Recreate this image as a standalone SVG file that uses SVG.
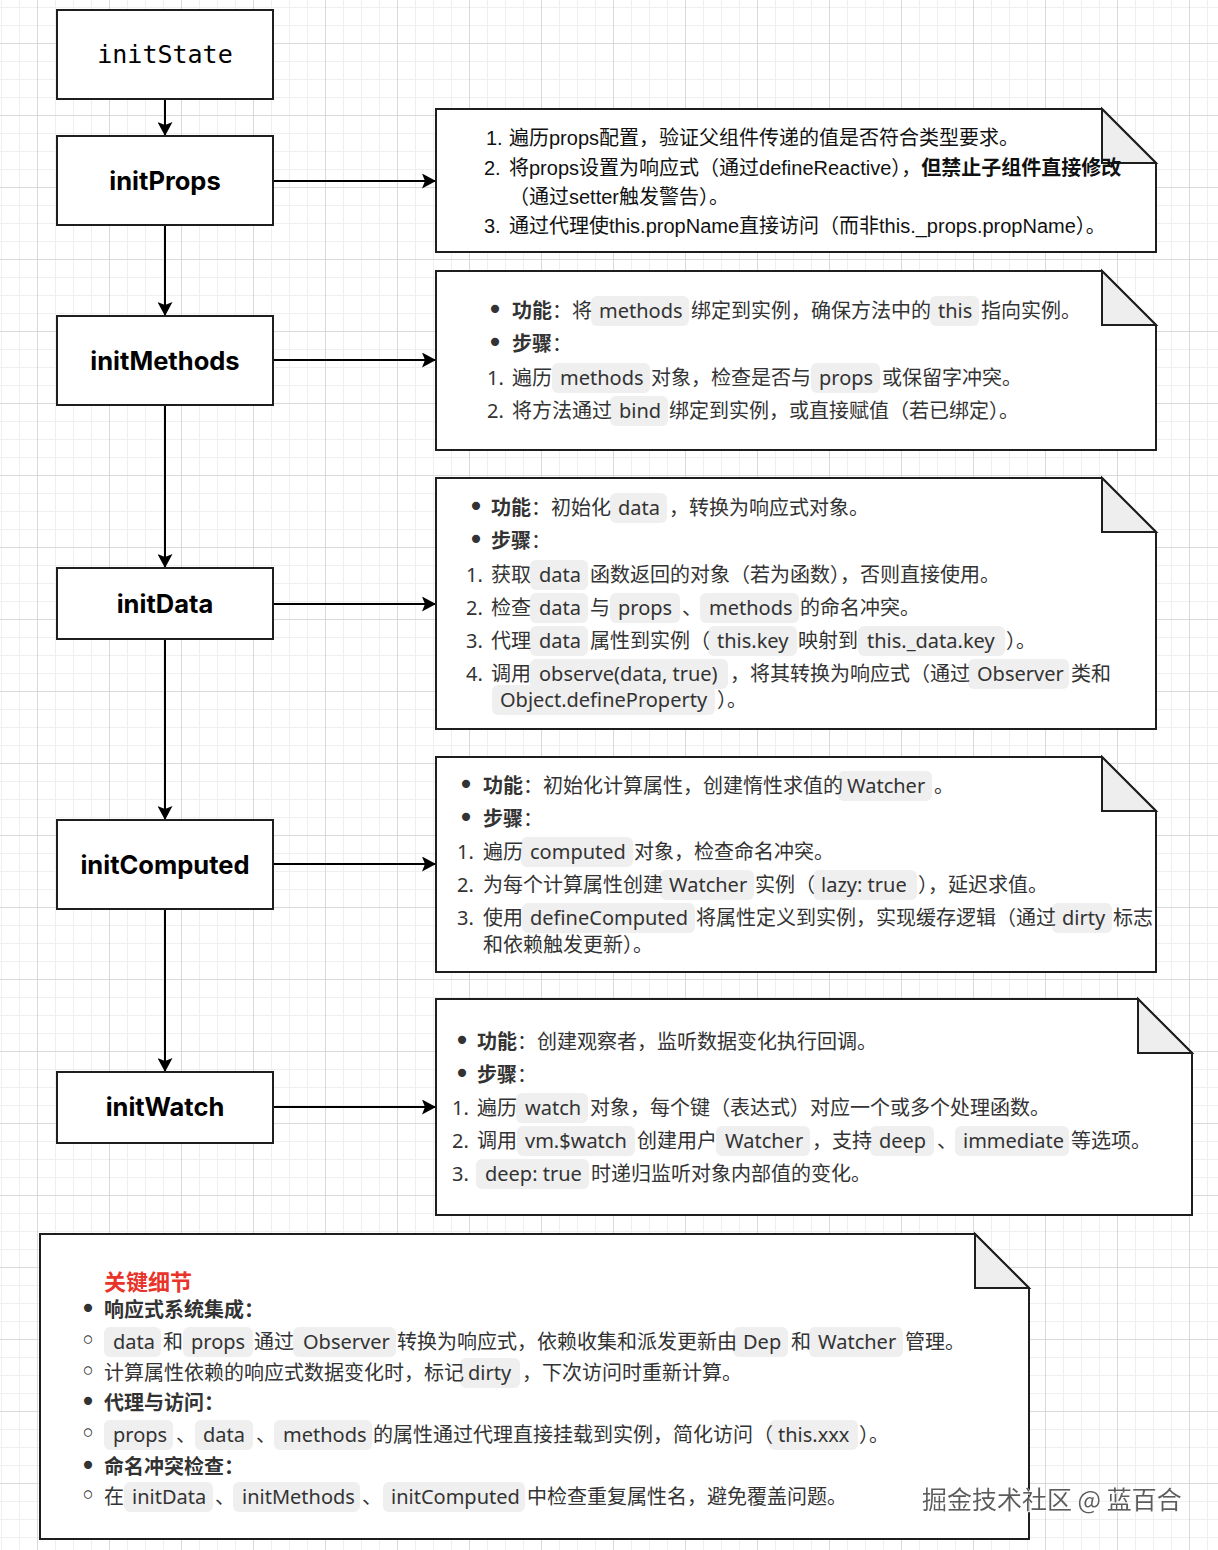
<svg xmlns="http://www.w3.org/2000/svg" width="1218" height="1550" viewBox="0 0 1218 1550">
<style>
.t{font-family:"Noto Sans","Noto Sans CJK SC",sans-serif;font-size:20px;fill:#333}
.d{font-family:"Liberation Sans","Noto Sans CJK SC",sans-serif;fill:#111}
.b{font-weight:700}
.k{fill:#efefef}
.bl{font-family:"DejaVu Sans","Noto Sans CJK SC",sans-serif;font-size:28px;fill:#333;text-anchor:middle}
.node{fill:#fff;stroke:#1e1e1e;stroke-width:2}
.note{fill:#fff;stroke:#1e1e1e;stroke-width:2}
.fold{fill:#eeeeee;stroke:#1e1e1e;stroke-width:2;stroke-linejoin:miter}
.lbl{font-family:Inter,"Noto Sans",sans-serif;font-size:25.5px;font-weight:700;fill:#000;text-anchor:middle}
.edge{stroke:#000;stroke-width:2;fill:none}
</style>
<defs>
<pattern id="grid" patternUnits="userSpaceOnUse" x="37" y="43" width="72" height="72">
<rect x="18" y="0" width="1" height="72" fill="#efefef"/>
<rect x="36" y="0" width="1" height="72" fill="#efefef"/>
<rect x="54" y="0" width="1" height="72" fill="#efefef"/>
<rect x="0" y="18" width="72" height="1" fill="#efefef"/>
<rect x="0" y="36" width="72" height="1" fill="#efefef"/>
<rect x="0" y="54" width="72" height="1" fill="#efefef"/>
<rect x="0" y="0" width="1" height="72" fill="#d9d9d9"/>
<rect x="0" y="0" width="72" height="1" fill="#d9d9d9"/>
</pattern>
<marker id="arr" markerUnits="userSpaceOnUse" markerWidth="15" markerHeight="15" viewBox="0 0 15 15" refX="14" refY="7.5" orient="auto">
<path d="M0,0 L14,7.5 L0,15 L3,7.5 Z" fill="#000"/>
</marker>
<filter id="wm" x="-5%" y="-20%" width="110%" height="140%">
<feDropShadow dx="1" dy="1" stdDeviation="0.3" flood-color="#ffffff" flood-opacity="1"/>
</filter>
</defs>
<rect width="1218" height="1550" fill="#fff"/>
<rect width="1218" height="1550" fill="url(#grid)"/>

<g id="edges">
<line class="edge" x1="165" y1="99" x2="165" y2="136" marker-end="url(#arr)"/>
<line class="edge" x1="165" y1="225" x2="165" y2="316" marker-end="url(#arr)"/>
<line class="edge" x1="165" y1="405" x2="165" y2="568" marker-end="url(#arr)"/>
<line class="edge" x1="165" y1="639" x2="165" y2="820" marker-end="url(#arr)"/>
<line class="edge" x1="165" y1="909" x2="165" y2="1072" marker-end="url(#arr)"/>
<line class="edge" x1="273" y1="181" x2="436" y2="181" marker-end="url(#arr)"/>
<line class="edge" x1="273" y1="360" x2="436" y2="360" marker-end="url(#arr)"/>
<line class="edge" x1="273" y1="604" x2="436" y2="604" marker-end="url(#arr)"/>
<line class="edge" x1="273" y1="864" x2="436" y2="864" marker-end="url(#arr)"/>
<line class="edge" x1="273" y1="1107" x2="436" y2="1107" marker-end="url(#arr)"/>
</g>

<g id="n-initState">
<rect class="node" x="57" y="10" width="216" height="89"/>
<text x="165" y="63" text-anchor="middle" font-family="'DejaVu Sans Mono','Liberation Mono',monospace" font-size="25" fill="#000">initState</text>
</g>
<g id="n-initProps">
<rect class="node" x="57" y="136" width="216" height="89"/>
<text class="lbl" x="165" y="190">initProps</text>
</g>
<g id="n-initMethods">
<rect class="node" x="57" y="316" width="216" height="89"/>
<text class="lbl" x="165" y="370">initMethods</text>
</g>
<g id="n-initData">
<rect class="node" x="57" y="568" width="216" height="71"/>
<text class="lbl" x="165" y="613">initData</text>
</g>
<g id="n-initComputed">
<rect class="node" x="57" y="820" width="216" height="89"/>
<text class="lbl" x="165" y="874">initComputed</text>
</g>
<g id="n-initWatch">
<rect class="node" x="57" y="1072" width="216" height="71"/>
<text class="lbl" x="165" y="1116">initWatch</text>
</g>

<g id="note-props">
<path class="note" d="M436,109 H1102 L1156,163 V252 H436 Z"/>
<path class="fold" d="M1102,109 V163 H1156 Z"/>
<text class="t d" x="486" y="145">1.<tspan x="509">遍历props配置，验证父组件传递的值是否符合类型要求。</tspan></text>
<text class="t d" x="484" y="175">2.<tspan x="509">将props设置为响应式（通过defineReactive），</tspan><tspan class="b">但禁止子组件直接修改</tspan></text>
<text class="t d" x="509" y="204">（通过setter触发警告）。</text>
<text class="t d" x="484" y="233">3.<tspan x="509">通过代理使this.propName直接访问（而非this._props.propName）。</tspan></text>
</g>

<g id="note-methods">
<path class="note" d="M436,271 H1102 L1156,325 V450 H436 Z"/>
<path class="fold" d="M1102,271 V325 H1156 Z"/>
<rect class="k" x="591" y="296" width="98" height="30" rx="6"/>
<rect class="k" x="930" y="296" width="49" height="30" rx="6"/>
<rect class="k" x="552" y="363" width="98" height="30" rx="6"/>
<rect class="k" x="811" y="363" width="69" height="30" rx="6"/>
<rect class="k" x="610" y="396" width="58" height="30" rx="6"/>
<text class="bl" x="495" y="319">•</text>
<text class="bl" x="495" y="352">•</text>
<text class="t" x="512" y="318"><tspan class="b">功能</tspan>：将<tspan x="599">methods</tspan><tspan x="691">绑定到实例，确保方法中的</tspan><tspan x="938">this</tspan><tspan x="981">指向实例。</tspan></text>
<text class="t" x="512" y="351"><tspan class="b">步骤</tspan>：</text>
<text class="t" x="487" y="385">1.<tspan x="512">遍历</tspan><tspan x="560">methods</tspan><tspan x="651">对象，检查是否与</tspan><tspan x="819">props</tspan><tspan x="882">或保留字冲突。</tspan></text>
<text class="t" x="487" y="418">2.<tspan x="512">将方法通过</tspan><tspan x="619">bind</tspan><tspan x="669">绑定到实例，或直接赋值（若已绑定）。</tspan></text>
</g>

<g id="note-data">
<path class="note" d="M436,478 H1102 L1156,532 V729 H436 Z"/>
<path class="fold" d="M1102,478 V532 H1156 Z"/>
<rect class="k" x="610" y="493" width="57" height="30" rx="6"/>
<rect class="k" x="530" y="560" width="58" height="30" rx="6"/>
<rect class="k" x="530" y="593" width="58" height="30" rx="6"/>
<rect class="k" x="610" y="593" width="70" height="30" rx="6"/>
<rect class="k" x="700" y="593" width="99" height="30" rx="6"/>
<rect class="k" x="530" y="626" width="58" height="30" rx="6"/>
<rect class="k" x="708" y="626" width="89" height="30" rx="6"/>
<rect class="k" x="858" y="626" width="147" height="30" rx="6"/>
<rect class="k" x="530" y="659" width="198" height="30" rx="6"/>
<rect class="k" x="968" y="659" width="101" height="30" rx="6"/>
<rect class="k" x="492" y="685" width="223" height="30" rx="6"/>
<text class="bl" x="476" y="516">•</text>
<text class="bl" x="476" y="549">•</text>
<text class="t" x="491" y="515"><tspan class="b">功能</tspan>：初始化<tspan x="618">data</tspan><tspan x="669">，转换为响应式对象。</tspan></text>
<text class="t" x="491" y="548"><tspan class="b">步骤</tspan>：</text>
<text class="t" x="466" y="582">1.<tspan x="491">获取</tspan><tspan x="539">data</tspan><tspan x="590">函数返回的对象（若为函数），否则直接使用。</tspan></text>
<text class="t" x="466" y="615">2.<tspan x="491">检查</tspan><tspan x="539">data</tspan><tspan x="590">与</tspan><tspan x="618">props</tspan><tspan x="682">、</tspan><tspan x="709">methods</tspan><tspan x="800">的命名冲突。</tspan></text>
<text class="t" x="466" y="648">3.<tspan x="491">代理</tspan><tspan x="539">data</tspan><tspan x="590">属性到实例（</tspan><tspan x="717">this.key</tspan><tspan x="798">映射到</tspan><tspan x="867">this._data.key</tspan><tspan x="1006">）。</tspan></text>
<text class="t" x="466" y="681">4.<tspan x="491">调用</tspan><tspan x="539">observe(data, true)</tspan><tspan x="730">，将其转换为响应式（通过</tspan><tspan x="977">Observer</tspan><tspan x="1071">类和</tspan></text>
<text class="t" x="500" y="707">Object.defineProperty<tspan x="717">）。</tspan></text>
</g>

<g id="note-computed">
<path class="note" d="M436,757 H1102 L1156,811 V972 H436 Z"/>
<path class="fold" d="M1102,757 V811 H1156 Z"/>
<rect class="k" x="838" y="771" width="94" height="30" rx="6"/>
<rect class="k" x="521" y="837" width="112" height="30" rx="6"/>
<rect class="k" x="660" y="870" width="94" height="30" rx="6"/>
<rect class="k" x="813" y="870" width="104" height="30" rx="6"/>
<rect class="k" x="522" y="903" width="173" height="30" rx="6"/>
<rect class="k" x="1052" y="903" width="60" height="30" rx="6"/>
<text class="bl" x="466" y="794">•</text>
<text class="bl" x="466" y="827">•</text>
<text class="t" x="483" y="793"><tspan class="b">功能</tspan>：初始化计算属性，创建惰性求值的<tspan x="847">Watcher</tspan><tspan x="934">。</tspan></text>
<text class="t" x="483" y="826"><tspan class="b">步骤</tspan>：</text>
<text class="t" x="457" y="859">1.<tspan x="483">遍历</tspan><tspan x="530">computed</tspan><tspan x="634">对象，检查命名冲突。</tspan></text>
<text class="t" x="457" y="892">2.<tspan x="483">为每个计算属性创建</tspan><tspan x="669">Watcher</tspan><tspan x="755">实例（</tspan><tspan x="821">lazy: true</tspan><tspan x="918">），延迟求值。</tspan></text>
<text class="t" x="457" y="925">3.<tspan x="483">使用</tspan><tspan x="530">defineComputed</tspan><tspan x="696">将属性定义到实例，实现缓存逻辑（通过</tspan><tspan x="1062">dirty</tspan><tspan x="1113">标志</tspan></text>
<text class="t" x="483" y="952">和依赖触发更新）。</text>
</g>

<g id="note-watch">
<path class="note" d="M436,999 H1138 L1192,1053 V1215 H436 Z"/>
<path class="fold" d="M1138,999 V1053 H1192 Z"/>
<rect class="k" x="516" y="1093" width="72" height="30" rx="6"/>
<rect class="k" x="517" y="1126" width="118" height="30" rx="6"/>
<rect class="k" x="716" y="1126" width="94" height="30" rx="6"/>
<rect class="k" x="870" y="1126" width="64" height="30" rx="6"/>
<rect class="k" x="955" y="1126" width="114" height="30" rx="6"/>
<rect class="k" x="476" y="1159" width="113" height="30" rx="6"/>
<text class="bl" x="462" y="1050">•</text>
<text class="bl" x="462" y="1083">•</text>
<text class="t" x="477" y="1049"><tspan class="b">功能</tspan>：创建观察者，监听数据变化执行回调。</text>
<text class="t" x="477" y="1082"><tspan class="b">步骤</tspan>：</text>
<text class="t" x="452" y="1115">1.<tspan x="477">遍历</tspan><tspan x="525">watch</tspan><tspan x="590">对象，每个键（表达式）对应一个或多个处理函数。</tspan></text>
<text class="t" x="452" y="1148">2.<tspan x="477">调用</tspan><tspan x="525">vm.$watch</tspan><tspan x="637">创建用户</tspan><tspan x="725">Watcher</tspan><tspan x="812">，支持</tspan><tspan x="879">deep</tspan><tspan x="937">、</tspan><tspan x="963">immediate</tspan><tspan x="1071">等选项。</tspan></text>
<text class="t" x="452" y="1181">3.<tspan x="485">deep: true</tspan><tspan x="591">时递归监听对象内部值的变化。</tspan></text>
</g>

<g id="note-details">
<path class="note" d="M40,1234 H975 L1029,1288 V1539 H40 Z"/>
<path class="fold" d="M975,1234 V1288 H1029 Z"/>
<rect class="k" x="104" y="1327" width="57" height="30" rx="6"/>
<rect class="k" x="183" y="1327" width="70" height="30" rx="6"/>
<rect class="k" x="293" y="1327" width="103" height="30" rx="6"/>
<rect class="k" x="733" y="1327" width="55" height="30" rx="6"/>
<rect class="k" x="809" y="1327" width="94" height="30" rx="6"/>
<rect class="k" x="460" y="1358" width="60" height="30" rx="6"/>
<rect class="k" x="104" y="1420" width="69" height="30" rx="6"/>
<rect class="k" x="195" y="1420" width="58" height="30" rx="6"/>
<rect class="k" x="274" y="1420" width="98" height="30" rx="6"/>
<rect class="k" x="769" y="1420" width="89" height="30" rx="6"/>
<rect class="k" x="124" y="1482" width="89" height="30" rx="6"/>
<rect class="k" x="233" y="1482" width="127" height="30" rx="6"/>
<rect class="k" x="383" y="1482" width="142" height="30" rx="6"/>
<text x="104" y="1290" font-family="'Noto Sans CJK SC',sans-serif" font-size="22" font-weight="700" fill="#e8342a">关键细节</text>
<text class="bl" x="88" y="1318">•</text>
<text class="bl" x="88" y="1350">◦</text>
<text class="bl" x="88" y="1381">◦</text>
<text class="bl" x="88" y="1411">•</text>
<text class="bl" x="88" y="1443">◦</text>
<text class="bl" x="88" y="1475">•</text>
<text class="bl" x="88" y="1505">◦</text>
<text class="t b" x="104" y="1317">响应式系统集成：</text>
<text class="t" x="113" y="1349">data<tspan x="163">和</tspan><tspan x="191">props</tspan><tspan x="254">通过</tspan><tspan x="303">Observer</tspan><tspan x="397">转换为响应式，依赖收集和派发更新由</tspan><tspan x="743">Dep</tspan><tspan x="791">和</tspan><tspan x="818">Watcher</tspan><tspan x="905">管理。</tspan></text>
<text class="t" x="104" y="1380">计算属性依赖的响应式数据变化时，标记<tspan x="468">dirty</tspan><tspan x="522">，下次访问时重新计算。</tspan></text>
<text class="t b" x="104" y="1410">代理与访问：</text>
<text class="t" x="113" y="1442">props<tspan x="176">、</tspan><tspan x="203">data</tspan><tspan x="256">、</tspan><tspan x="283">methods</tspan><tspan x="373">的属性通过代理直接挂载到实例，简化访问（</tspan><tspan x="778">this.xxx</tspan><tspan x="859">）。</tspan></text>
<text class="t b" x="104" y="1474">命名冲突检查：</text>
<text class="t" x="104" y="1504">在<tspan x="132">initData</tspan><tspan x="215">、</tspan><tspan x="242">initMethods</tspan><tspan x="362">、</tspan><tspan x="391">initComputed</tspan><tspan x="527">中检查重复属性名，避免覆盖问题。</tspan></text>
</g>

<text x="922" y="1509" font-family="'Noto Sans CJK SC',sans-serif" font-size="25" fill="#5c5c5c" filter="url(#wm)">掘金技术社区 @ 蓝百合</text>
</svg>
